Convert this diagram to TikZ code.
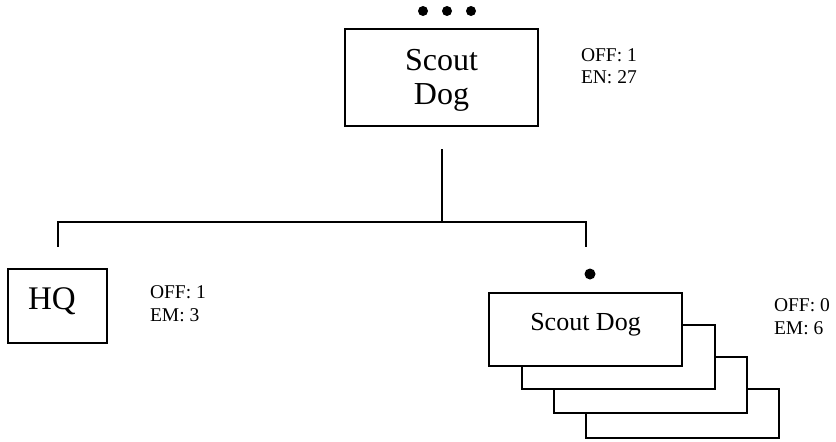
\documentclass[tikz,border=0pt]{standalone}
\usepackage{fontspec}
\setmainfont{Liberation Serif}
\begin{document}
\begin{tikzpicture}[x=1pt,y=-1pt,line width=2pt,
  unit/.style={draw,fill=white,rectangle,inner sep=0pt,minimum width=193pt},
  strength/.style={anchor=base west,inner sep=0pt,font=\fontsize{19.5}{22}\selectfont},
  dot/.style={fill,circle,inner sep=0pt,minimum size=10pt}]
\useasboundingbox (0,0) rectangle (836,442);
% higher echelon
\node[dot] (d1) at (423,11) {};
\node[dot] (d2) at (447,11) {};
\node[dot] (d3) at (471,11) {};
\node[unit,minimum height=97pt,align=center,font=\fontsize{32}{34}\selectfont,text depth=2pt] (top) at (441.5,77.5) {Scout\\Dog};
\node[strength] (topoff) at (580,61) {OFF: 1};
\node[strength] (topen) at (580,83) {EN: 27};
% HQ
\node[unit,minimum width=99pt,minimum height=74pt,font=\fontsize{33}{35}\selectfont,text height=22pt,text depth=14pt] (hq) at (57.5,305.5) {HQ\kern11pt};
\node[strength] (hqoff) at (149,298) {OFF: 1};
\node[strength] (hqem) at (149,321) {EM: 3};
% scout dog teams
\node[unit,minimum height=49pt] (sd3) at (682,413.5) {};
\node[unit,minimum height=56pt] (sd2) at (650,385) {};
\node[unit,minimum height=64pt] (sd1) at (618,357) {};
\node[unit,minimum height=73pt,font=\fontsize{26}{30}\selectfont,text height=18pt,text depth=17pt] (sd) at (585.5,329.5) {Scout Dog};
\node[dot,minimum size=11pt] (d4) at (590,274) {};
\node[strength] (sdoff) at (773,311) {OFF: 0};
\node[strength] (sdem) at (773,334) {EM: 6};
% links
\coordinate (stem) at (441.5,149);
\coordinate (fork) at (441.5,221.5);
\coordinate (hqtop) at (58,246.5);
\coordinate (sdtop) at (585.5,246.5);
\draw (stem) -- (fork);
\draw (hqtop) |- (fork) -| (sdtop);
\end{tikzpicture}
\end{document}
